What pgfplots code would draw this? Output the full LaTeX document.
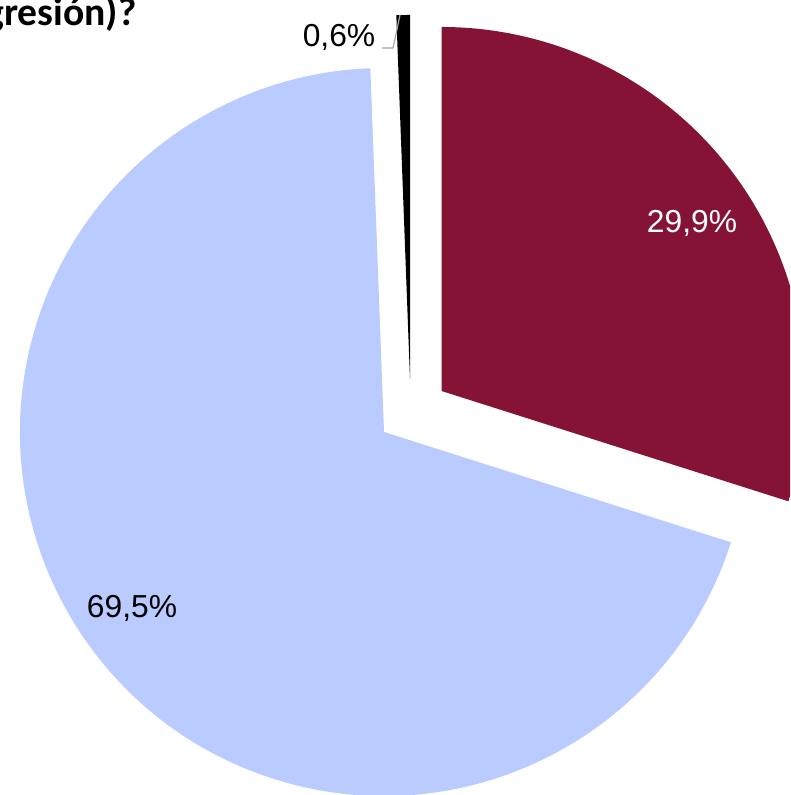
\documentclass[border=0pt]{standalone}
\usepackage{pgfplots}
\usepackage{pgfplotstable}
\usepackage{fontspec}
\pgfplotsset{compat=1.18}
\setmainfont{Liberation Sans}
\newfontfamily\titlefont{Carlito}

\definecolor{sliceA}{HTML}{851335}
\definecolor{sliceB}{HTML}{B9CBFF}
\definecolor{sliceC}{HTML}{000000}

% share of answers, in %
\pgfplotstableread{
label value
A     29.9
B     69.5
C     0.6
}\piedata

\pgfplotstablegetelem{0}{value}\of\piedata \let\va\pgfplotsretval
\pgfplotstablegetelem{1}{value}\of\piedata \let\vb\pgfplotsretval
\pgfplotstablegetelem{2}{value}\of\piedata \let\vc\pgfplotsretval

\begin{document}
\begin{tikzpicture}
\pgfmathsetmacro{\angA}{90-3.6*\va}
\pgfmathsetmacro{\angB}{\angA-3.6*\vb}
\pgfmathsetmacro{\angC}{\angB-3.6*\vc}
\begin{axis}[
    width=395pt, height=397.5pt,
    scale only axis,
    hide axis,
    xmin=0, xmax=790,
    ymin=0, ymax=795,
    clip=true,
]
    % exploded slices, each around its own centre
    \fill[sliceA] (axis cs:441.5,404) -- ++(90:182pt)
        arc[start angle=90, end angle=\angA, radius=182pt] -- cycle;
    \fill[sliceB] (axis cs:384,363) -- ++(\angA:182pt)
        arc[start angle=\angA, end angle=\angB, radius=182pt] -- cycle;
    \fill[sliceC] (axis cs:410,416) -- ++(\angB:182pt)
        arc[start angle=\angB, end angle=\angC, radius=182pt] -- cycle;

    \draw[gray!70, line width=0.6pt] (axis cs:382,747) -- (axis cs:393,747) -- (axis cs:400,780);

    \node[font=\fontsize{15.9}{18}\selectfont, text=white] at (axis cs:692,571.5) {29,9\%};
    \node[font=\fontsize{15.9}{18}\selectfont] at (axis cs:132,187) {69,5\%};
    \node[font=\fontsize{15.9}{18}\selectfont] at (axis cs:339,757.5) {0,6\%};

    \node[anchor=base east, inner sep=0pt, font=\titlefont\bfseries\fontsize{19.8}{23}\selectfont]
        at (axis cs:137,769) {(regresión)?};
\end{axis}
\end{tikzpicture}
\end{document}
